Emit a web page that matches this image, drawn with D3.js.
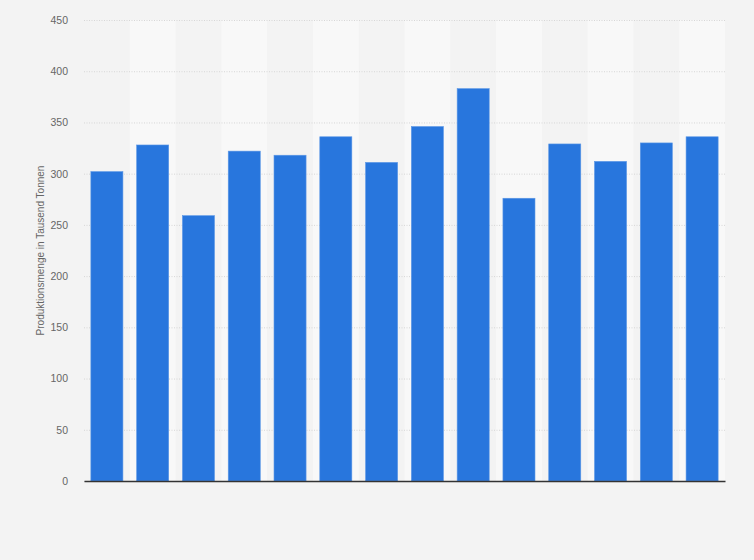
<!DOCTYPE html>
<html>
<head>
<meta charset="utf-8">
<script src="https://cdn.jsdelivr.net/npm/d3@7"></script>
<style>
  body { margin: 0; background: #f3f3f3; }
  svg { display: block; font-family: "Liberation Sans", Arial, sans-serif; }
</style>
</head>
<body>
<div id="chart"></div>
<script>
var svgWidth = 754;
var svgHeight = 560;

var margin = { top: 20, right: 29, bottom: 79, left: 84 };
var width = svgWidth - margin.left - margin.right;
var height = svgHeight - margin.top - margin.bottom;

// categories (no labels shown on the x axis in the reference)
var categories = ["1", "2", "3", "4", "5", "6", "7", "8", "9", "10", "11", "12", "13", "14"];
var values = [302, 328, 259, 322, 318, 336, 311, 346, 383, 276, 329, 312, 330, 336];
var yTicks = [0, 50, 100, 150, 200, 250, 300, 350, 400, 450];
var yLabel = "Produktionsmenge in Tausend Tonnen";

var svg = d3.select("#chart")
  .append("svg")
  .attr("width", svgWidth)
  .attr("height", svgHeight);

svg.append("rect")
  .attr("width", svgWidth)
  .attr("height", svgHeight)
  .attr("fill", "#f3f3f3");

var chartGroup = svg.append("g")
  .attr("transform", `translate(${margin.left}, ${margin.top})`);

var xScale = d3.scaleBand()
  .domain(categories)
  .range([0, width])
  .paddingInner(0.3)
  .paddingOuter(0.15);

var stripeScale = d3.scaleBand()
  .domain(categories)
  .range([0, width]);

var yScale = d3.scaleLinear()
  .domain([0, 450])
  .range([height, 0]);

// alternating stripes
chartGroup.selectAll(".stripe")
  .data(categories.filter((d, i) => i % 2 === 1))
  .enter()
  .append("rect")
  .attr("class", "stripe")
  .attr("x", d => stripeScale(d))
  .attr("y", 0)
  .attr("width", stripeScale.bandwidth())
  .attr("height", height)
  .attr("fill", "#f8f8f8");

// grid lines + tick labels
var leftAxis = d3.axisLeft(yScale)
  .tickValues(yTicks)
  .tickSize(-width)
  .tickPadding(16);

var yAxis = chartGroup.append("g").call(leftAxis);
yAxis.select(".domain").remove();
yAxis.selectAll(".tick line")
  .attr("stroke", "#d6d6d6")
  .attr("stroke-dasharray", "1,1.5");
yAxis.selectAll(".tick text")
  .attr("fill", "#666")
  .attr("font-size", "10.5px");

// bars
chartGroup.selectAll(".bar")
  .data(values)
  .enter()
  .append("rect")
  .attr("class", "bar")
  .attr("x", (d, i) => xScale(categories[i]))
  .attr("y", d => yScale(d))
  .attr("width", xScale.bandwidth())
  .attr("height", d => height - yScale(d))
  .attr("fill", "#2876dd")
  .attr("stroke", "#5b97e6")
  .attr("stroke-width", 0.6);

// x axis line
var bottomAxis = d3.axisBottom(xScale).tickSize(0).tickFormat("");
var xAxis = chartGroup.append("g")
  .attr("transform", `translate(0, ${height})`)
  .call(bottomAxis);
xAxis.select(".domain")
  .attr("stroke", "#333")
  .attr("stroke-width", 1.5);

// y axis label
chartGroup.append("text")
  .attr("transform", "rotate(-90)")
  .attr("x", 0 - (height / 2))
  .attr("y", 0 - 40)
  .attr("text-anchor", "middle")
  .attr("fill", "#666")
  .attr("font-size", "10px")
  .text(yLabel);
</script>
</body>
</html>
